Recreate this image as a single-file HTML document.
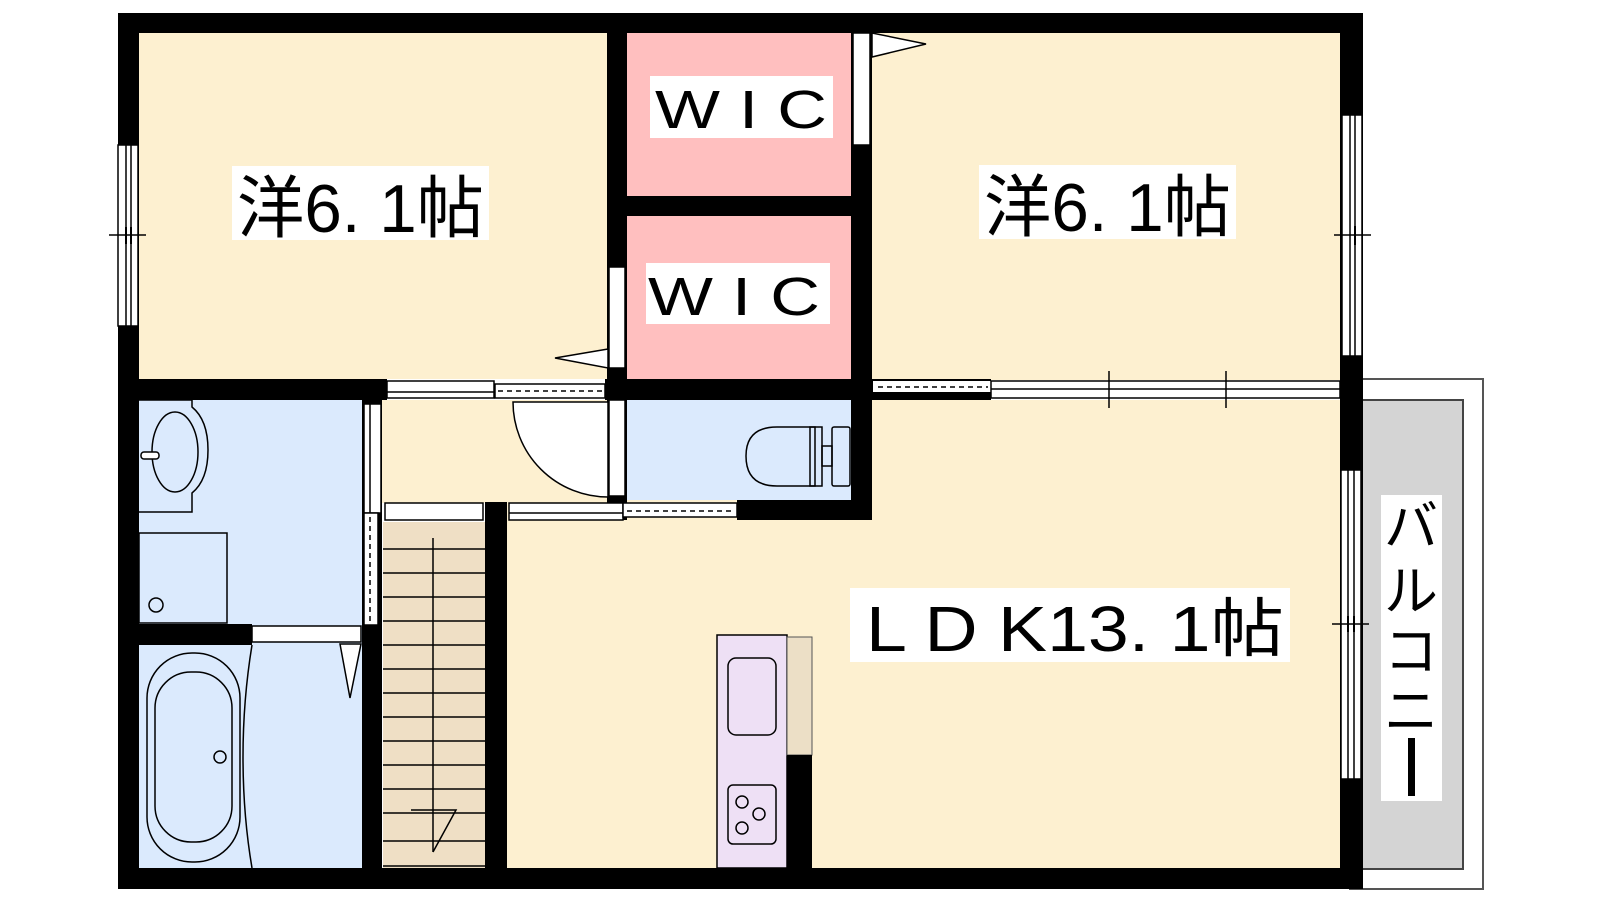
<!DOCTYPE html>
<html><head><meta charset="utf-8"><style>
html,body{margin:0;padding:0;background:#fff;}
svg{display:block;}
text{font-family:"Liberation Sans","Noto Sans CJK JP",sans-serif;fill:#000;}
</style></head><body>
<svg width="1600" height="900" viewBox="0 0 1600 900" xmlns="http://www.w3.org/2000/svg">
<!-- balcony -->
<rect x="1350" y="379" width="133" height="510" fill="#fff" stroke="#555" stroke-width="2"/>
<rect x="1361" y="400" width="102" height="469" fill="#d4d4d4" stroke="#444" stroke-width="2"/>
<!-- floors -->
<rect x="139" y="33" width="468" height="346" fill="#fdf0d0"/>
<rect x="872" y="33" width="468" height="347" fill="#fdf0d0"/>
<rect x="627" y="33" width="225" height="163" fill="#ffbfbf"/>
<rect x="627" y="216" width="225" height="163" fill="#ffbfbf"/>
<rect x="382" y="400" width="226" height="103" fill="#fdf0d0"/>
<rect x="505" y="400" width="835" height="468" fill="#fdf0d0"/>
<rect x="627" y="400" width="225" height="100" fill="#dbeafd"/>
<rect x="139" y="400" width="224" height="468" fill="#dbeafd"/>
<rect x="383" y="522" width="102" height="346" fill="#efdfc5"/>
<!-- outer walls -->
<rect x="118" y="13" width="1245" height="20" fill="#000"/>
<rect x="118" y="868" width="1243" height="21" fill="#000"/>
<rect x="118" y="13" width="21" height="876" fill="#000"/>
<rect x="1340" y="13" width="23" height="876" fill="#000"/>
<!-- interior walls -->
<rect x="118" y="379" width="269" height="21" fill="#000"/>
<rect x="605" y="379" width="267" height="21" fill="#000"/>
<rect x="607" y="13" width="20" height="507" fill="#000"/>
<rect x="851" y="13" width="21" height="507" fill="#000"/>
<rect x="607" y="196" width="265" height="20" fill="#000"/>
<rect x="737" y="500" width="135" height="20" fill="#000"/>
<rect x="362" y="400" width="20" height="468" fill="#000"/>
<rect x="118" y="624" width="134" height="21" fill="#000"/>
<rect x="485" y="502" width="22" height="366" fill="#000"/>
<!-- left window -->
<rect x="118" y="145" width="20" height="181" fill="#fff" stroke="#000" stroke-width="1.5"/>
<line x1="126" y1="145" x2="126" y2="326" stroke="#000" stroke-width="1.5"/>
<line x1="131" y1="145" x2="131" y2="326" stroke="#000" stroke-width="1.5"/>
<line x1="109" y1="235" x2="146" y2="235" stroke="#000" stroke-width="1.5"/>
<line x1="126" y1="227" x2="126" y2="244" stroke="#000" stroke-width="2"/>
<line x1="131" y1="227" x2="131" y2="244" stroke="#000" stroke-width="2"/>
<!-- right room window -->
<rect x="1342" y="115" width="20" height="241" fill="#fff" stroke="#000" stroke-width="1.5"/>
<line x1="1350" y1="115" x2="1350" y2="356" stroke="#000" stroke-width="1.5"/>
<line x1="1355" y1="115" x2="1355" y2="356" stroke="#000" stroke-width="1.5"/>
<line x1="1334" y1="235" x2="1371" y2="235" stroke="#000" stroke-width="1.5"/>
<line x1="1355" y1="226" x2="1355" y2="245" stroke="#000" stroke-width="2"/>
<!-- LDK window -->
<rect x="1341" y="470" width="20" height="309" fill="#fff" stroke="#000" stroke-width="1.5"/>
<line x1="1348" y1="470" x2="1348" y2="779" stroke="#000" stroke-width="1.5"/>
<line x1="1354" y1="470" x2="1354" y2="779" stroke="#000" stroke-width="1.5"/>
<line x1="1332" y1="624" x2="1369" y2="624" stroke="#000" stroke-width="1.5"/>
<line x1="1348" y1="616" x2="1348" y2="632" stroke="#000" stroke-width="2"/>
<line x1="1354" y1="616" x2="1354" y2="632" stroke="#000" stroke-width="2"/>
<!-- bottom of right room: sliding door + window -->
<rect x="872" y="379" width="119" height="21" fill="#000"/>
<rect x="873" y="381" width="118" height="11" fill="#fff"/>
<line x1="878" y1="387" x2="988" y2="387" stroke="#000" stroke-width="1.5" stroke-dasharray="5,4"/>
<rect x="991" y="381" width="349" height="17" fill="#fff" stroke="#000" stroke-width="1.5"/>
<line x1="991" y1="389" x2="1340" y2="389" stroke="#000" stroke-width="1.5"/>
<line x1="1109" y1="371" x2="1109" y2="408" stroke="#000" stroke-width="1.5"/>
<line x1="1226" y1="371" x2="1226" y2="408" stroke="#000" stroke-width="1.5"/>
<!-- bottom of left room: door + slide -->
<rect x="387" y="381" width="107" height="17" fill="#fff" stroke="#000" stroke-width="1.5"/>
<line x1="387" y1="392" x2="494" y2="392" stroke="#000" stroke-width="1.5"/>
<rect x="495" y="384" width="110" height="14" fill="#fff" stroke="#000" stroke-width="1.5"/>
<line x1="498" y1="391" x2="603" y2="391" stroke="#000" stroke-width="1.5" stroke-dasharray="5,4"/>
<!-- left room door -->
<rect x="609" y="267" width="16" height="101" fill="#fff" stroke="#000" stroke-width="1.5"/>
<polygon points="608,349 555,358 608,368" fill="#fff" stroke="#000" stroke-width="1.5"/>
<!-- right room door -->
<rect x="853" y="33" width="17" height="112" fill="#fff" stroke="#000" stroke-width="1.5"/>
<polygon points="872,33 926,44 872,57" fill="#fff" stroke="#000" stroke-width="1.5"/>
<!-- toilet door & swing -->
<path d="M513,402 A95,95 0 0 0 608,497 L608,402 Z" fill="#fff" stroke="#000" stroke-width="1.5"/>
<rect x="609" y="400" width="16" height="96" fill="#fff" stroke="#000" stroke-width="1.5"/>
<!-- bottom of hall -->
<rect x="385" y="503" width="98" height="17" fill="#fff" stroke="#000" stroke-width="1.5"/>
<rect x="509" y="503" width="114" height="17" fill="#fff" stroke="#000" stroke-width="1.5"/>
<line x1="509" y1="513" x2="623" y2="513" stroke="#000" stroke-width="1.5"/>
<rect x="623" y="503" width="114" height="14" fill="#fff" stroke="#000" stroke-width="1.5"/>
<line x1="627" y1="511" x2="735" y2="511" stroke="#000" stroke-width="1.5" stroke-dasharray="5,4"/>
<!-- washroom partition -->
<rect x="364" y="404" width="17" height="109" fill="#fff" stroke="#000" stroke-width="1.5"/>
<line x1="370" y1="404" x2="370" y2="513" stroke="#000" stroke-width="1.5"/>
<rect x="364" y="513" width="14" height="112" fill="#fff" stroke="#000" stroke-width="1.5"/>
<line x1="370" y1="517" x2="370" y2="623" stroke="#000" stroke-width="1.5" stroke-dasharray="5,4"/>
<!-- bath door -->
<rect x="252" y="626" width="109" height="16" fill="#fff" stroke="#000" stroke-width="1.5"/>
<polygon points="340,644 361,644 350,698" fill="#fff" stroke="#000" stroke-width="1.5"/>
<!-- washbasin -->
<path d="M139,400 H192 V407 Q208,420 208,450 Q208,480 192,493 V512 H139" fill="none" stroke="#000" stroke-width="1.5"/>
<ellipse cx="175" cy="452" rx="23" ry="40" fill="none" stroke="#000" stroke-width="1.5"/>
<rect x="141" y="452" width="18" height="7" rx="3" fill="#fff" stroke="#000" stroke-width="1.5"/>
<!-- washing machine -->
<rect x="139" y="533" width="88" height="90" fill="none" stroke="#000" stroke-width="1.5"/>
<circle cx="156" cy="605" r="7" fill="none" stroke="#000" stroke-width="1.5"/>
<!-- bath -->
<path d="M252,645 Q243,700 243,757 Q243,815 252,868" fill="none" stroke="#000" stroke-width="1.5"/>
<rect x="147" y="653" width="93" height="209" rx="45" fill="none" stroke="#000" stroke-width="1.5"/>
<rect x="155" y="672" width="77" height="170" rx="36" fill="none" stroke="#000" stroke-width="1.5"/>
<circle cx="220" cy="757" r="6" fill="none" stroke="#000" stroke-width="1.5"/>
<!-- toilet -->
<path d="M815,427 H777 Q746,427 746,456 Q746,486 777,486 H815 Z" fill="none" stroke="#000" stroke-width="1.5"/>
<rect x="810" y="427" width="12" height="59" fill="none" stroke="#000" stroke-width="1.5"/>
<rect x="832" y="427" width="18" height="59" rx="2" fill="none" stroke="#000" stroke-width="1.5"/>
<rect x="822" y="446" width="10" height="20" fill="none" stroke="#000" stroke-width="1.5"/>
<!-- stairs -->
<g stroke="#000" stroke-width="1.5">
<line x1="383" y1="549" x2="485" y2="549"/><line x1="383" y1="573" x2="485" y2="573"/>
<line x1="383" y1="597" x2="485" y2="597"/><line x1="383" y1="621" x2="485" y2="621"/>
<line x1="383" y1="645" x2="485" y2="645"/><line x1="383" y1="669" x2="485" y2="669"/>
<line x1="383" y1="693" x2="485" y2="693"/><line x1="383" y1="717" x2="485" y2="717"/>
<line x1="383" y1="741" x2="485" y2="741"/><line x1="383" y1="765" x2="485" y2="765"/>
<line x1="383" y1="789" x2="485" y2="789"/><line x1="383" y1="813" x2="485" y2="813"/>
<line x1="383" y1="841" x2="485" y2="841"/><line x1="383" y1="866" x2="485" y2="866"/>
<line x1="433" y1="538" x2="433" y2="852"/>
<polyline points="411,810 456,810 433,852" fill="none"/>
</g>
<!-- kitchen -->
<rect x="717" y="635" width="70" height="233" fill="#eee0f5" stroke="#000" stroke-width="1.5"/>
<rect x="728" y="658" width="48" height="77" rx="8" fill="none" stroke="#000" stroke-width="1.5"/>
<rect x="728" y="785" width="48" height="59" rx="5" fill="none" stroke="#000" stroke-width="1.5"/>
<circle cx="742" cy="802" r="6" fill="none" stroke="#000" stroke-width="1.5"/>
<circle cx="759" cy="814" r="6" fill="none" stroke="#000" stroke-width="1.5"/>
<circle cx="742" cy="828" r="6" fill="none" stroke="#000" stroke-width="1.5"/>
<rect x="787" y="637" width="25" height="118" fill="#ecdfc6" stroke="#555" stroke-width="1"/>
<rect x="787" y="755" width="25" height="113" fill="#000"/>
<!-- labels -->
<rect x="232" y="166" width="257" height="74" fill="#fff"/>
<text x="237" y="232" font-size="68" textLength="247" lengthAdjust="spacingAndGlyphs">洋6. 1帖</text>
<rect x="979" y="165" width="257" height="74" fill="#fff"/>
<text x="984" y="231" font-size="68" textLength="247" lengthAdjust="spacingAndGlyphs">洋6. 1帖</text>
<rect x="650" y="76" width="183" height="62" fill="#fff"/>
<text x="655" y="128" font-size="54" textLength="172" lengthAdjust="spacingAndGlyphs">W I C</text>
<rect x="646" y="263" width="184" height="61" fill="#fff"/>
<text x="648" y="315" font-size="54" textLength="172" lengthAdjust="spacingAndGlyphs">W I C</text>
<rect x="850" y="588" width="440" height="74" fill="#fff"/>
<text x="866" y="651" font-size="64" textLength="418" lengthAdjust="spacingAndGlyphs">L D K13. 1帖</text>
<rect x="1381" y="495" width="61" height="306" fill="#fff"/>
<g font-size="54" text-anchor="middle">
<text x="1411" y="545">バ</text>
<text x="1411" y="610">ル</text>
<text x="1411" y="670">コ</text>
<text x="1411" y="730">ニ</text>
<rect x="1408" y="738" width="7" height="58" fill="#000"/>
</g>
</svg>
</body></html>
